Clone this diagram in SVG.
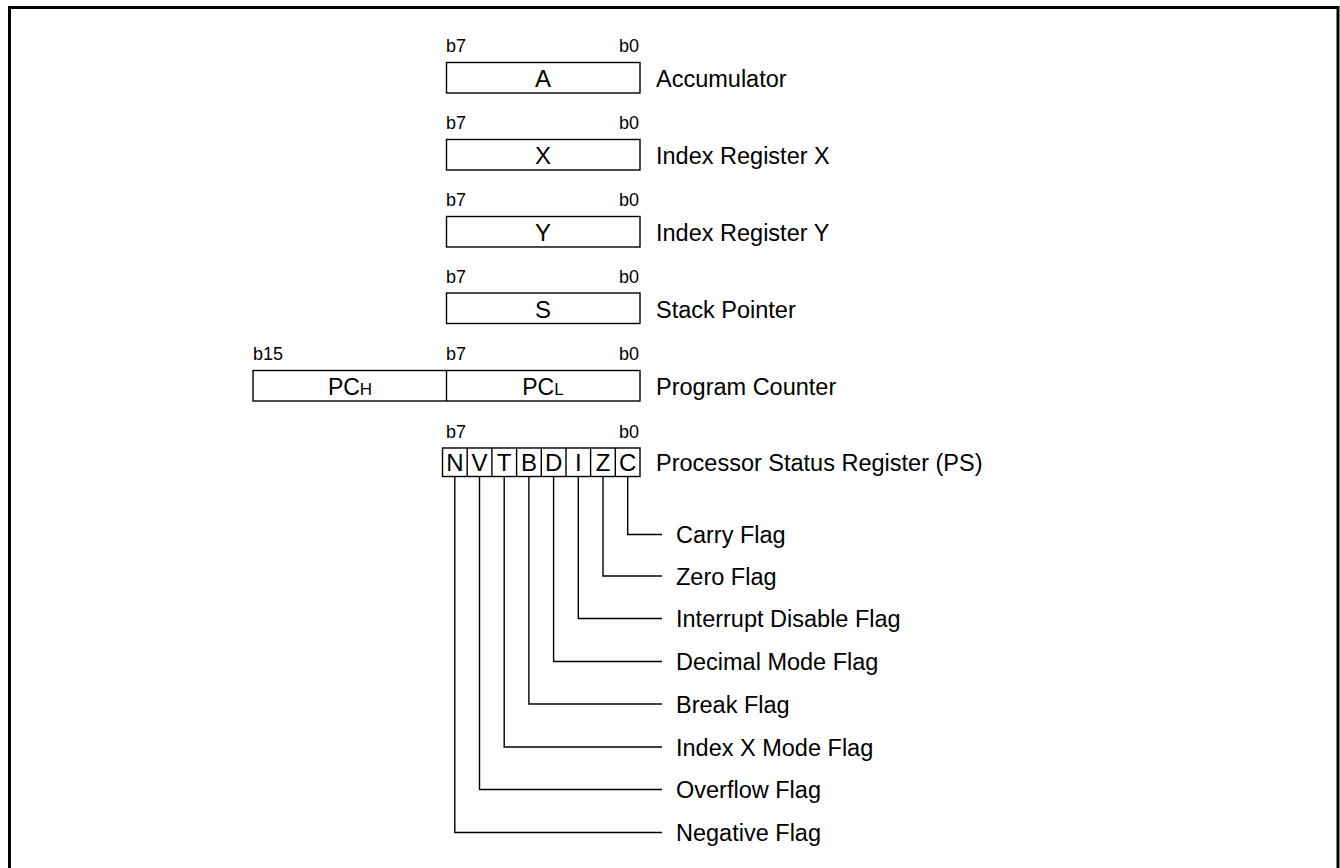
<svg xmlns="http://www.w3.org/2000/svg" width="1340" height="868" viewBox="0 0 1340 868">
<style>
.frame{fill:none;stroke:#000;stroke-width:3}
.box{fill:#fff;stroke:#000;stroke-width:1.4}
.ln{fill:none;stroke:#000;stroke-width:1.4}
text{font-family:"Liberation Sans",Arial,sans-serif;fill:#000}
.bit{font-size:18px}
.lbl{font-size:23.5px}
.reg{font-size:24px;text-anchor:middle}
.sub{font-size:17px}
</style>
<rect class="frame" x="9.5" y="7.5" width="1328.5" height="880"/>
<g id="acc">
<text class="bit" x="446" y="52">b7</text><text class="bit" x="639" y="52" text-anchor="end">b0</text>
<rect class="box" x="446.5" y="62.5" width="193.5" height="30.5"/>
<text class="reg" x="543" y="87">A</text>
<text class="lbl" x="656" y="87">Accumulator</text>
</g>
<g id="regx">
<text class="bit" x="446" y="129">b7</text><text class="bit" x="639" y="129" text-anchor="end">b0</text>
<rect class="box" x="446.5" y="139.5" width="193.5" height="30.5"/>
<text class="reg" x="543" y="164">X</text>
<text class="lbl" x="656" y="164">Index Register X</text>
</g>
<g id="regy">
<text class="bit" x="446" y="206">b7</text><text class="bit" x="639" y="206" text-anchor="end">b0</text>
<rect class="box" x="446.5" y="216.5" width="193.5" height="30.5"/>
<text class="reg" x="543" y="241">Y</text>
<text class="lbl" x="656" y="241">Index Register Y</text>
</g>
<g id="sp">
<text class="bit" x="446" y="283">b7</text><text class="bit" x="639" y="283" text-anchor="end">b0</text>
<rect class="box" x="446.5" y="293" width="193.5" height="30.5"/>
<text class="reg" x="543" y="318">S</text>
<text class="lbl" x="656" y="318">Stack Pointer</text>
</g>
<g id="pc">
<text class="bit" x="253" y="360">b15</text><text class="bit" x="446" y="360">b7</text><text class="bit" x="639" y="360" text-anchor="end">b0</text>
<rect class="box" x="253" y="370.5" width="387" height="30.5"/>
<line class="ln" x1="446.5" y1="370.5" x2="446.5" y2="401"/>
<text x="350" y="395" font-size="23" text-anchor="middle">PC<tspan class="sub">H</tspan></text>
<text x="543" y="395" font-size="23" text-anchor="middle">PC<tspan class="sub">L</tspan></text>
<text class="lbl" x="656" y="395">Program Counter</text>
</g>
<g id="ps">
<text class="bit" x="446" y="438">b7</text><text class="bit" x="639" y="438" text-anchor="end">b0</text>
<rect class="box" x="442.5" y="448" width="197.5" height="28.5"/>
<g class="ln">
<line x1="467.2" y1="448" x2="467.2" y2="476.5"/><line x1="491.9" y1="448" x2="491.9" y2="476.5"/>
<line x1="516.6" y1="448" x2="516.6" y2="476.5"/><line x1="541.3" y1="448" x2="541.3" y2="476.5"/>
<line x1="566" y1="448" x2="566" y2="476.5"/><line x1="590.6" y1="448" x2="590.6" y2="476.5"/>
<line x1="615.3" y1="448" x2="615.3" y2="476.5"/>
</g>
<g class="reg">
<text x="454.8" y="471">N</text><text x="479.5" y="471">V</text><text x="504.2" y="471">T</text><text x="528.9" y="471">B</text>
<text x="553.6" y="471">D</text><text x="578.3" y="471">I</text><text x="603" y="471">Z</text><text x="627.7" y="471">C</text>
</g>
<text class="lbl" x="656" y="471">Processor Status Register (PS)</text>
</g>
<g id="connectors" class="ln">
<polyline points="627.7,476.5 627.7,534.5 662,534.5"/>
<polyline points="603,476.5 603,576 662,576"/>
<polyline points="578.3,476.5 578.3,618.5 662,618.5"/>
<polyline points="553.6,476.5 553.6,661.5 662,661.5"/>
<polyline points="528.9,476.5 528.9,704 662,704"/>
<polyline points="504.2,476.5 504.2,747 662,747"/>
<polyline points="479.5,476.5 479.5,789.5 662,789.5"/>
<polyline points="454.8,476.5 454.8,832.5 662,832.5"/>
</g>
<g id="flags" class="lbl">
<text x="676" y="543">Carry Flag</text>
<text x="676" y="584.5">Zero Flag</text>
<text x="676" y="627">Interrupt Disable Flag</text>
<text x="676" y="670">Decimal Mode Flag</text>
<text x="676" y="712.5">Break Flag</text>
<text x="676" y="755.5">Index X Mode Flag</text>
<text x="676" y="798">Overflow Flag</text>
<text x="676" y="841">Negative Flag</text>
</g>
</svg>
